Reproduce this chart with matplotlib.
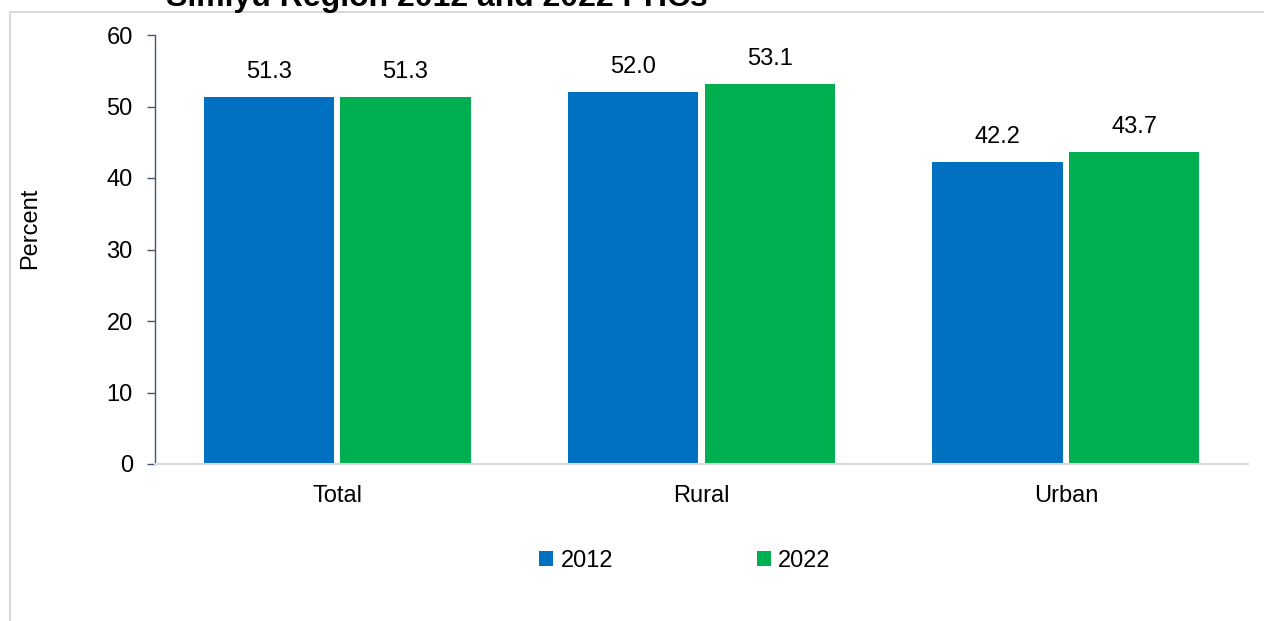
import matplotlib
matplotlib.use("Agg")
import matplotlib.pyplot as plt
import numpy as np
from matplotlib.patches import Rectangle

plt.rcParams['font.family'] = ['Liberation Sans', 'DejaVu Sans']

# Simiyu region, 2012 vs 2022 census
categories = ['Total', 'Rural', 'Urban']
years = ['2012', '2022']
values_2012 = [51.3, 52.0, 42.2]
values_2022 = [51.3, 53.1, 43.7]
yticks = [0, 10, 20, 30, 40, 50, 60]

blue = '#0070C0'
green = '#00B050'
fs = 17

fig = plt.figure(figsize=(12.64, 6.21), dpi=100)
W, H = 1264, 621
ax = fig.add_axes([155 / W, 1 - 464 / H, (1248 - 155) / W, (464 - 35) / H])

x = np.arange(len(categories))
bw = 0.357
off = bw / 2 + 0.009
b1 = ax.bar(x - off, values_2012, bw, color=blue, label=years[0])
b2 = ax.bar(x + off, values_2022, bw, color=green, label=years[1])

for bars, vals in ((b1, values_2012), (b2, values_2022)):
    for rect, v in zip(bars, vals):
        ax.annotate(f'{v:.1f}', (rect.get_x() + rect.get_width() / 2, v),
                    xytext=(0, 18), textcoords='offset points',
                    ha='center', va='center', fontsize=fs)

ax.set_xlim(-0.5, 2.5)
ax.set_ylim(0, 60)
ax.set_yticks(yticks)
ax.set_xticks(x)
ax.set_xticklabels(categories)
ax.tick_params(axis='y', direction='out', length=6, width=1, color='#44546A',
               labelsize=fs, pad=10)
ax.tick_params(axis='x', length=0, labelsize=fs, pad=15)

for s in ('top', 'right'):
    ax.spines[s].set_visible(False)
ax.spines['left'].set_color('#44546A')
ax.spines['left'].set_linewidth(1)
ax.spines['bottom'].set_color('#D9D9D9')
ax.spines['bottom'].set_linewidth(1.5)

fig.text(30 / W, 1 - 228 / H, 'Percent', rotation=90, ha='center', va='center',
         fontsize=fs)

# title sits partly above the frame
fig.text(437 / W, 1 - 6 / H, 'Simiyu Region 2012 and 2022 PHCs', ha='center',
         va='baseline', fontsize=23, fontweight='bold')

# outer chart border
fig.add_artist(Rectangle((10 / W, -0.1), 1.2, 1 - 12 / H + 0.1,
                         transform=fig.transFigure, fill=False,
                         edgecolor='#D9D9D9', linewidth=1.5))

fig.legend(handles=[b1, b2], labels=years, loc='center',
           bbox_to_anchor=(685 / W, 1 - 561 / H), ncol=2, frameon=False,
           fontsize=fs, handlelength=0.6, handleheight=0.6,
           handletextpad=0.3, columnspacing=6.1)

fig.savefig('out.png', dpi=100)
